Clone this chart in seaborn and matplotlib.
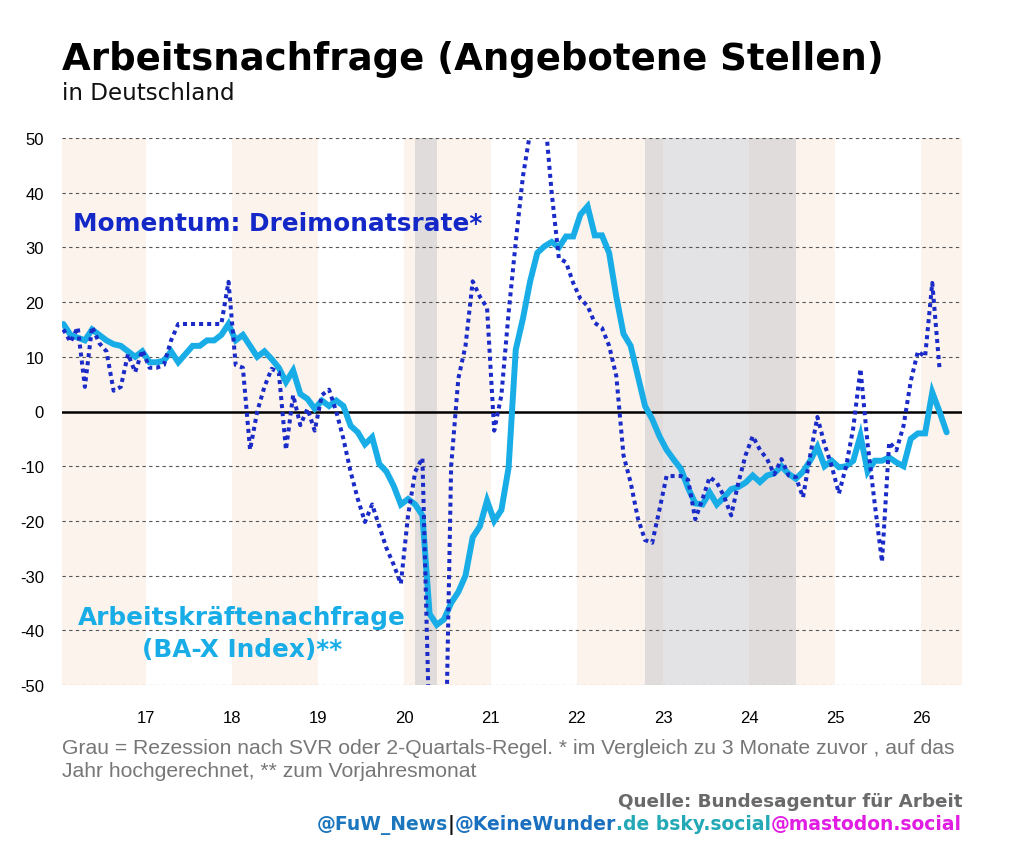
import numpy as np
import pandas as pd
import matplotlib
matplotlib.use("Agg")
import matplotlib.pyplot as plt
import seaborn as sns

# ---------------- data (monthly, Jan 2016 .. Apr 2026) ----------------
start_year = 2016
bax_yoy = [16, 14, 13.5, 13, 15, 14, 13, 12.3, 12, 11, 10, 11,
           9, 9, 9.3, 11, 9, 10.5, 12, 12, 13, 13, 14, 16,
           13, 14, 12, 10, 11, 9.6, 8, 5.4, 7.5, 3.2, 2.3, 0.5,
           2, 1, 2, 1, -2.6, -3.8, -6, -4.7, -9.6, -11, -13.6, -17,
           -16, -17, -19, -37, -39, -38, -35, -33, -30, -23, -21, -16.3,
           -20, -18, -10.3, 11.3, 17, 23.8, 29, 30.2, 31, 30, 32, 32,
           36, 37.5, 32.2, 32.2, 29, 21, 14.2, 12, 6.5, 1, -1.4, -4.5,
           -7, -8.8, -10.5, -14, -16.8, -17, -14.8, -17, -15.7, -14.2, -13.8, -13,
           -11.7, -12.9, -11.7, -11.3, -10, -11.4, -12.3, -11, -9, -6.5, -10, -9,
           -10.2, -10, -9, -4.4, -11, -9, -9, -8.4, -9.3, -10, -5, -4,
           -4, 3.5, 0, -3.8]
momentum_3m = [15, 12.7, 15.4, 4.5, 15.5, 12.5, 11, 3.8, 4.5, 10.5, 7.2, 11.2,
               8, 8, 8.5, 13, 16, 16, 16, 16, 16, 16, 16, 23.7,
               8.5, 8, -7, 0, 4.5, 7.8, 7.2, -7, 3, -2.5, 0.5, -3.5,
               3, 4, 0, -5, -11, -16, -20.2, -17, -21, -25, -28, -31.5,
               -19, -11, -8.5, -60, -100, -80, -10, 6, 12, 23.8, 21, 19,
               -3.5, 3, 18, 31, 43, 51, 56, 55, 40, 28, 27.3, 23.5,
               20.6, 19.3, 16.2, 15.3, 12, 6.5, -8, -13, -19.5, -23.5, -24, -18,
               -11.8, -11.8, -11.8, -12.5, -19.7, -16, -12, -13, -15.5, -19, -13, -8,
               -4.5, -7, -8.7, -11.5, -8.7, -11.7, -12, -15.7, -8, -1, -6, -10,
               -15, -10, -3, 7.8, -6, -17, -27.5, -5.6, -7.1, -2.6, 5.5, 11,
               10, 23.5, 8, np.nan]
year_ticks = [2017, 2018, 2019, 2020, 2021, 2022, 2023, 2024, 2025, 2026]
year_labels = ["17", "18", "19", "20", "21", "22", "23", "24", "25", "26"]
shaded_years = [2016, 2018, 2020, 2022, 2024, 2026]
recessions = [(2020.125, 2020.38), (2022.795, 2024.545)]
y_ticks = [-50, -40, -30, -20, -10, 0, 10, 20, 30, 40, 50]

n = len(bax_yoy)
t = start_year + (np.arange(n) + 0.5) / 12.0
df = pd.DataFrame({"t": t, "bax": bax_yoy, "mom": momentum_3m})

# ---------------- style ----------------
sns.set_theme(style="white")
plt.rcParams["font.family"] = ["DejaVu Sans"]
plt.rcParams["axes.unicode_minus"] = False

W, H = 1024, 853
fig = plt.figure(figsize=(W / 100, H / 100), dpi=100)
ax = fig.add_axes([62 / W, 1 - 686 / H, 900 / W, 547 / H])

XL, XR = 2016.026, 2026.47
for yr in shaded_years:
    ax.axvspan(yr, yr + 1, color="#fcf3ed", lw=0, zorder=0)
for a, b in recessions:
    ax.axvspan(a, b, color="#c8c6cc", alpha=0.5, lw=0, zorder=0.5)

for yv in y_ticks:
    if yv != 0:
        ax.axhline(yv, color="#555555", lw=0.8, ls=(0, (3, 3)), zorder=1)
ax.axhline(0, color="black", lw=1.8, zorder=2)

sns.lineplot(data=df, x="t", y="bax", ax=ax, color="#18ade6", lw=4.3,
             zorder=3, solid_joinstyle="miter")
sns.lineplot(data=df, x="t", y="mom", ax=ax, color="#1a2bc8", lw=2.9,
             linestyle=(0, (1, 1.0)), dash_capstyle="butt", zorder=4)

ax.set_xlim(XL, XR)
ax.set_ylim(-50, 50)
ax.set_xticks(year_ticks)
ax.set_xticklabels(year_labels)
ax.set_yticks(y_ticks)
ax.set_yticklabels([str(v) for v in y_ticks])
ax.set_xlabel("")
ax.set_ylabel("")
for s in ax.spines.values():
    s.set_visible(False)
ax.tick_params(axis="y", length=0, pad=13, labelsize=12, labelcolor="black")
ax.tick_params(axis="x", length=0, pad=18, labelsize=12, labelcolor="black")
for lab in ax.get_xticklabels() + ax.get_yticklabels():
    lab.set_family(["Liberation Sans", "DejaVu Sans"])

# ---------------- texts ----------------
def fx(px):
    return px / W

def fy(py):
    return 1 - py / H

fig.text(fx(62), fy(70), "Arbeitsnachfrage (Angebotene Stellen)", fontsize=26.7,
         fontweight="bold", color="black", va="baseline", ha="left")
fig.text(fx(62), fy(100), "in Deutschland", fontsize=16.6, color="#111111",
         va="baseline", ha="left")

fig.text(fx(73), fy(231), "Momentum: Dreimonatsrate*", fontsize=17.8,
         fontweight="bold", color="#1428c8", va="baseline", ha="left")
fig.text(fx(242), fy(625), "Arbeitskräftenachfrage", fontsize=17.8,
         fontweight="bold", color="#18ade6", va="baseline", ha="center")
fig.text(fx(242), fy(657), "(BA-X Index)**", fontsize=17.8,
         fontweight="bold", color="#18ade6", va="baseline", ha="center")

foot_font = ["Liberation Sans", "DejaVu Sans"]
fig.text(fx(62), fy(754),
         "Grau = Rezession nach SVR oder 2-Quartals-Regel. * im Vergleich zu 3 Monate zuvor , auf das",
         fontsize=15.2, color="#777777", family=foot_font, va="baseline", ha="left")
fig.text(fx(62), fy(777), "Jahr hochgerechnet, ** zum Vorjahresmonat",
         fontsize=15.2, color="#777777", family=foot_font, va="baseline", ha="left")

fig.text(fx(962), fy(807), "Quelle: Bundesagentur für Arbeit", fontsize=13.2,
         fontweight="bold", color="#6a6a6a", va="baseline", ha="right")

pieces = [("@FuW_News", "#1b76bd"), ("|", "#111111"), ("@KeineWunder", "#1b6fbf"),
          (".de bsky.social", "#23a9b5"), ("@mastodon.social", "#e11de3")]
fig.canvas.draw()
renderer = fig.canvas.get_renderer()
objs = []
widths = []
for txt, col in pieces:
    o = fig.text(0, fy(830), txt, fontsize=13.5, fontweight="bold", color=col,
                 va="baseline", ha="left")
    widths.append(o.get_window_extent(renderer).width)
    objs.append(o)
x = 962 - sum(widths)
for o, w in zip(objs, widths):
    o.set_x(fx(x))
    x += w

fig.savefig("out.png", dpi=100)
